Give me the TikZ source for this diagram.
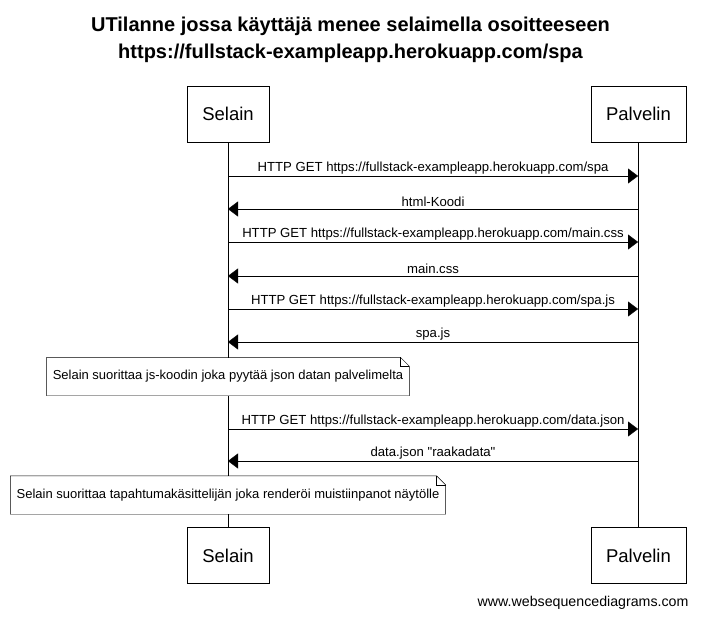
\documentclass[tikz,border=0pt]{standalone}
\usepackage{fontspec}
\setmainfont{Liberation Sans}
\usetikzlibrary{arrows.meta}

\begin{document}
\begin{tikzpicture}[x=1pt,y=-1pt,>={Triangle[length=10pt,width=15pt]},
  actor/.style={draw,fill=white,inner xsep=15pt,minimum height=56pt,font=\fontsize{18.5}{20}\selectfont},
  msg/.style={above,inner sep=2pt,font=\fontsize{13.15}{15}\selectfont},
  note/.style={fill=white,inner xsep=6pt,minimum height=38pt,font=\fontsize{13}{15}\selectfont},
 ]
 \useasboundingbox (0,0) rectangle (701,618);

 \node[align=center,font=\bfseries\fontsize{20}{27}\selectfont] (title) at (350.5,40)
   {UTilanne jossa käyttäjä menee selaimella osoitteeseen\\https://fullstack-exampleapp.herokuapp.com/spa};

 % lifelines
 \coordinate (selTop) at (228,142);
 \coordinate (selEnd) at (228,527);
 \coordinate (palTop) at (638,142);
 \coordinate (palEnd) at (638,527);
 \draw (selTop) -- (selEnd);
 \draw (palTop) -- (palEnd);

 \node[actor] (selA) at (228,114) {Selain};
 \node[actor] (palA) at (638.5,114) {Palvelin};
 \node[actor] (selB) at (228,555.5) {Selain};
 \node[actor] (palB) at (638.5,555.5) {Palvelin};

 \foreach \i/\y in {1/176,2/209,3/242,4/276,5/309,6/342,7/429,8/461} {
   \coordinate (s\i) at (228,\y);
   \coordinate (p\i) at (638,\y);
 }

 \draw[->] (s1) -- node[msg] {HTTP GET https://fullstack-exampleapp.herokuapp.com/spa} (p1);
 \draw[->] (p2) -- node[msg] {html-Koodi} (s2);
 \draw[->] (s3) -- node[msg] {HTTP GET https://fullstack-exampleapp.herokuapp.com/main.css} (p3);
 \draw[->] (p4) -- node[msg] {main.css} (s4);
 \draw[->] (s5) -- node[msg] {HTTP GET https://fullstack-exampleapp.herokuapp.com/spa.js} (p5);
 \draw[->] (p6) -- node[msg] {spa.js} (s6);

 \node[note] (n1) at (228,376.5) {Selain suorittaa js-koodin joka pyytää json datan palvelimelta};

 \draw[->] (s7) -- node[msg] {HTTP GET https://fullstack-exampleapp.herokuapp.com/data.json} (p7);
 \draw[->] (p8) -- node[msg] {data.json \textquotedbl raakadata\textquotedbl} (s8);

 \node[note] (n2) at (228,495) {Selain suorittaa tapahtumakäsittelijän joka renderöi muistiinpanot näytölle};

 % folded corners of the notes
 \foreach \n in {n1,n2} {
   \draw (\n.south west) -- (\n.north west) -- ([xshift=-9pt]\n.north east)
     -- ([yshift=-9pt]\n.north east) -- (\n.south east) -- cycle;
   \draw ([xshift=-9pt]\n.north east) -- ++(0,9) -- ++(9,0);
 }

 \node[anchor=base east,font=\fontsize{14.2}{16}\selectfont] (wsd) at (692,606) {www.websequencediagrams.com};

\end{tikzpicture}
\end{document}
